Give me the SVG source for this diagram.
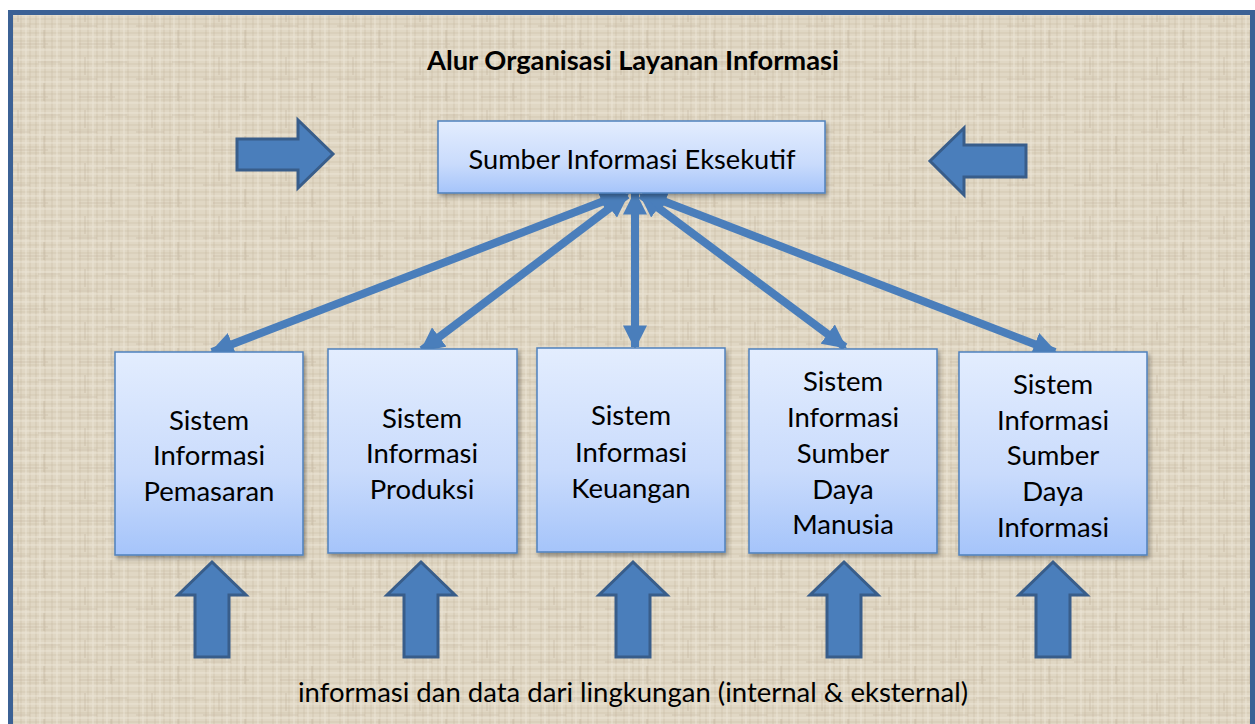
<svg xmlns="http://www.w3.org/2000/svg" width="1255" height="724" viewBox="0 0 1255 724">
<defs>
<style>
.box{fill:url(#g);stroke:#4f81bd;stroke-width:1.5;filter:url(#sh)}
.lbl{font-family:Lato,"Liberation Sans",sans-serif;font-size:27.5px;fill:#000;text-anchor:middle;dominant-baseline:central}
.con{stroke:#4a7ebb;stroke-width:8;fill:none;marker-start:url(#ah);marker-end:url(#ah)}
.blk{fill:#4a7ebb;stroke:#385d8a;stroke-width:3;stroke-linejoin:miter}
</style>
<linearGradient id="g" x1="0" y1="0" x2="0" y2="1">
<stop offset="0" stop-color="#e3edfe"/>
<stop offset="0.6" stop-color="#c9dbfc"/>
<stop offset="1" stop-color="#a5c4fa"/>
</linearGradient>
<filter id="sh" x="-10%" y="-10%" width="130%" height="130%">
<feDropShadow dx="2" dy="3" stdDeviation="2" flood-color="#000" flood-opacity="0.35"/>
</filter>
<pattern id="linen" width="67" height="53" patternUnits="userSpaceOnUse">
<rect width="67" height="53" fill="#e0d7c4"/>
<path d="M0 3H67M0 11H67M0 19H67M0 24H67M0 33H67M0 41H67M0 47H67" stroke="#c8bca5" stroke-width="1" opacity="0.55"/>
<path d="M5 0V53M13 0V53M21 0V53M30 0V53M36 0V53M45 0V53M52 0V53M61 0V53" stroke="#c5b8a0" stroke-width="1" opacity="0.5"/>
<path d="M0 7H67M0 15H67M0 29H67M0 37H67M0 50H67M9 0V53M26 0V53M40 0V53M57 0V53" stroke="#efe9dc" stroke-width="1" opacity="0.7"/>
<path d="M2 26H30M38 9H60M12 44H48M44 30V48M18 4V22" stroke="#b3a68d" stroke-width="1.2" opacity="0.35"/>
</pattern>
<marker id="ah" viewBox="0 0 10 10" refX="9" refY="5" markerUnits="userSpaceOnUse" markerWidth="24" markerHeight="24" orient="auto-start-reverse">
<path d="M0 0L10 5L0 10Z" fill="#4a7ebb"/>
</marker>
</defs>
<rect x="0" y="0" width="1255" height="724" fill="#ffffff"/>
<rect x="10.5" y="12.5" width="1242" height="760" fill="url(#linen)" stroke="#3b6195" stroke-width="5"/>
<text x="633" y="59" font-family="Lato,'Liberation Sans',sans-serif" font-size="27" font-weight="bold" text-anchor="middle" dominant-baseline="central" fill="#000" textLength="412" lengthAdjust="spacingAndGlyphs">Alur Organisasi Layanan Informasi</text>
<g id="arrow-left-in">
<path class="blk" d="M237 139H298V120L333 154L298 188V170H237Z"/>
</g>
<g id="arrow-right-in">
<path class="blk" d="M1026 145H964V128L930 161L964 195V177H1026Z"/>
</g>
<g id="connectors">
<line class="con" x1="622" y1="194" x2="212" y2="352"/>
<line class="con" x1="627" y1="195" x2="422" y2="350"/>
<line class="con" x1="635" y1="193" x2="635" y2="347"/>
<line class="con" x1="641" y1="195" x2="845" y2="347"/>
<line class="con" x1="645" y1="194" x2="1055" y2="352"/>
</g>
<g id="exec">
<rect class="box" x="438" y="121" width="387" height="72"/>
<text class="lbl" x="632" y="158" textLength="327" lengthAdjust="spacingAndGlyphs">Sumber Informasi Eksekutif</text>
</g>
<g id="pemasaran">
<rect class="box" x="115" y="352" width="188" height="203"/>
<text class="lbl" x="209" y="419">Sistem</text>
<text class="lbl" x="209" y="454">Informasi</text>
<text class="lbl" x="209" y="490">Pemasaran</text>
</g>
<g id="produksi">
<rect class="box" x="328" y="349" width="189" height="204"/>
<text class="lbl" x="422" y="417">Sistem</text>
<text class="lbl" x="422" y="452">Informasi</text>
<text class="lbl" x="422" y="488">Produksi</text>
</g>
<g id="keuangan">
<rect class="box" x="537" y="348" width="188" height="204"/>
<text class="lbl" x="631" y="414">Sistem</text>
<text class="lbl" x="631" y="451">Informasi</text>
<text class="lbl" x="631" y="487">Keuangan</text>
</g>
<g id="sdm">
<rect class="box" x="749" y="349" width="188" height="204"/>
<text class="lbl" x="843" y="380">Sistem</text>
<text class="lbl" x="843" y="416">Informasi</text>
<text class="lbl" x="843" y="452">Sumber</text>
<text class="lbl" x="843" y="488">Daya</text>
<text class="lbl" x="843" y="523">Manusia</text>
</g>
<g id="sdi">
<rect class="box" x="959" y="352" width="188" height="203"/>
<text class="lbl" x="1053" y="383">Sistem</text>
<text class="lbl" x="1053" y="419">Informasi</text>
<text class="lbl" x="1053" y="454">Sumber</text>
<text class="lbl" x="1053" y="490">Daya</text>
<text class="lbl" x="1053" y="526">Informasi</text>
</g>
<g id="inputs">
<path class="blk" d="M195 657V595H178L212 562L246 595H229V657Z"/>
<path class="blk" d="M404 657V595H387L421 562L455 595H438V657Z"/>
<path class="blk" d="M616 657V595H599L633 562L667 595H650V657Z"/>
<path class="blk" d="M827 657V595H810L844 562L878 595H861V657Z"/>
<path class="blk" d="M1036 657V595H1019L1053 562L1087 595H1070V657Z"/>
</g>
<text x="633" y="691" font-family="Lato,'Liberation Sans',sans-serif" font-size="27.5" text-anchor="middle" dominant-baseline="central" fill="#000" textLength="670" lengthAdjust="spacingAndGlyphs">informasi dan data dari lingkungan (internal &amp; eksternal)</text>
</svg>
